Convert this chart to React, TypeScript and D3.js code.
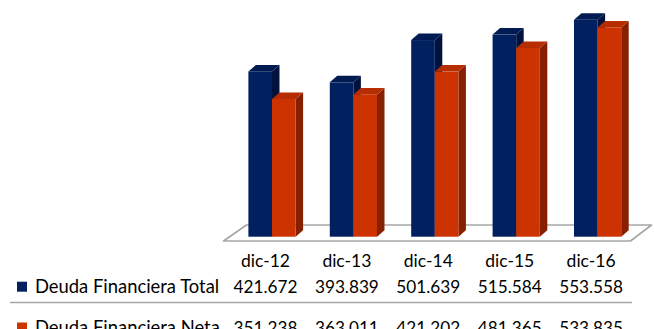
import React from "react";
import * as d3 from "d3";

const categories = ["dic-12", "dic-13", "dic-14", "dic-15", "dic-16"];
const seriesNames = ["Deuda Financiera Total", "Deuda Financiera Neta"];
const totalValues = [421.672, 393.839, 501.639, 515.584, 553.558];
const netValues = [351.238, 363.011, 421.202, 481.365, 533.835];
const valueLabelsTotal = ["421.672", "393.839", "501.639", "515.584", "553.558"];
const valueLabelsNet = ["351.238", "363.011", "421.202", "481.365", "533.835"];

const W = 654;
const H = 329;
const FRONT = ["#002060", "#CC3300"];
const TOP = ["#001a52", "#b52d00"];
const SIDE = ["#00123d", "#862000"];
const FONT = "Lato, 'Open Sans', sans-serif";

export default function App() {
  const x = d3.scaleBand<string>().domain(categories).range([231.3, 638.3]).padding(0);
  const y = d3.scaleLinear().domain([0, 600]).range([236.7, 1.5]);
  const bw = x.bandwidth() * 0.29;
  const dx = 7.5;
  const dy = -6.5;
  const series = [totalValues, netValues];

  const floorFrontY = 241;
  const floorBackY = 225;
  const floorLeft = 223.5;
  const floorRight = 630.5;
  const floorDx = 23;

  const bars: React.ReactNode[] = [];
  categories.forEach((c, i) => {
    const cx = (x(c) as number) + x.bandwidth() / 2;
    series.forEach((vals, s) => {
      const x0 = cx - bw + s * bw;
      const x1 = x0 + bw;
      const yt = y(vals[i]);
      const yb = y(0);
      bars.push(
        <g key={c + s}>
          <path
            d={`M${x1},${yb}L${x1 + dx},${yb + dy}L${x1 + dx},${yt + dy}L${x1},${yt}Z`}
            fill={SIDE[s]}
          />
          <path
            d={`M${x0},${yt}L${x0 + dx},${yt + dy}L${x1 + dx},${yt + dy}L${x1},${yt}Z`}
            fill={TOP[s]}
          />
          <rect x={x0} y={yt} width={bw} height={yb - yt} fill={FRONT[s]} />
        </g>
      );
    });
  });

  const colX = (c: string) => (x(c) as number) + x.bandwidth() / 2 - 6.5;
  const rowY = [266.7, 292.7, 333.5];

  return (
    <svg
      width={W}
      height={H}
      style={{ position: "fixed", left: 0, top: 0, background: "#fff" }}
      fontFamily={FONT}
    >
      <rect width={W} height={H} fill="#fff" />
      <path
        d={`M${floorLeft},${floorFrontY}L${floorLeft + floorDx},${floorBackY}L${floorRight + floorDx - 2},${floorBackY}L${floorRight},${floorFrontY}Z`}
        fill="#fff"
        stroke="#a6a6a6"
        strokeWidth={1.6}
        strokeLinejoin="round"
      />
      {bars}
      {categories.map((c) => (
        <text key={c} x={colX(c)} y={rowY[0]} textAnchor="middle" fontSize={17.5} fill="#000">
          {c}
        </text>
      ))}
      {[valueLabelsTotal, valueLabelsNet].map((labels, r) =>
        categories.map((c, i) => (
          <text key={c + r} x={colX(c)} y={rowY[r + 1]} textAnchor="middle" fontSize={17.2} fill="#000">
            {labels[i]}
          </text>
        ))
      )}
      {seriesNames.map((n, r) => (
        <g key={n}>
          <rect x={17} y={rowY[r + 1] - 11} width={10} height={10} fill={FRONT[r]} />
          <text x={35} y={rowY[r + 1]} fontSize={18.4} fill="#000">
            {n}
          </text>
        </g>
      ))}
      <line x1={10} x2={632} y1={302.5} y2={302.5} stroke="#a6a6a6" strokeWidth={1.5} />
    </svg>
  );
}
